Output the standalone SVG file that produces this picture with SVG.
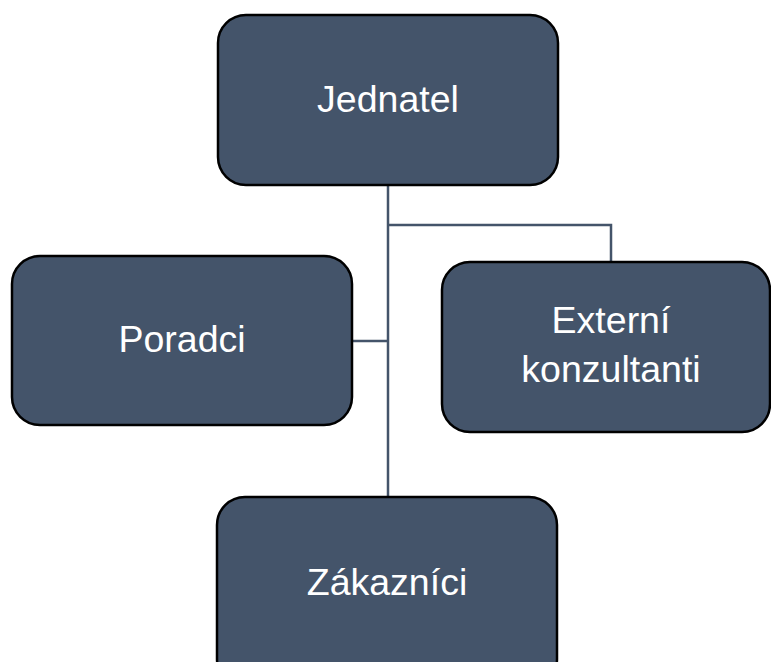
<svg xmlns="http://www.w3.org/2000/svg" width="771" height="662" viewBox="0 0 771 662">
<style>
.box{fill:#44546A;stroke:#000;stroke-width:2.5}
.lbl{fill:#fff;font-family:"Liberation Sans",Arial,sans-serif;font-size:37.5px;text-anchor:middle}
.conn{fill:none;stroke:#44546A;stroke-width:2.5}
</style>
<rect width="771" height="662" fill="#fff"/>
<g id="connectors">
<path class="conn" d="M388 185 V497"/>
<path class="conn" d="M388 225 H611 V262"/>
<path class="conn" d="M352 341 H388"/>
</g>
<g id="jednatel">
<rect class="box" x="218" y="15" width="340" height="170" rx="28"/>
<text class="lbl" x="388" y="112">Jednatel</text>
</g>
<g id="poradci">
<rect class="box" x="12" y="256" width="340" height="169" rx="28"/>
<text class="lbl" x="182" y="352">Poradci</text>
</g>
<g id="externi">
<rect class="box" x="442" y="262" width="328" height="170" rx="28"/>
<text class="lbl" x="611" y="333">Externí</text>
<text class="lbl" x="611" y="382">konzultanti</text>
</g>
<g id="zakaznici">
<rect class="box" x="217" y="497" width="340" height="190" rx="28"/>
<text class="lbl" x="387" y="595">Zákazníci</text>
</g>
</svg>
